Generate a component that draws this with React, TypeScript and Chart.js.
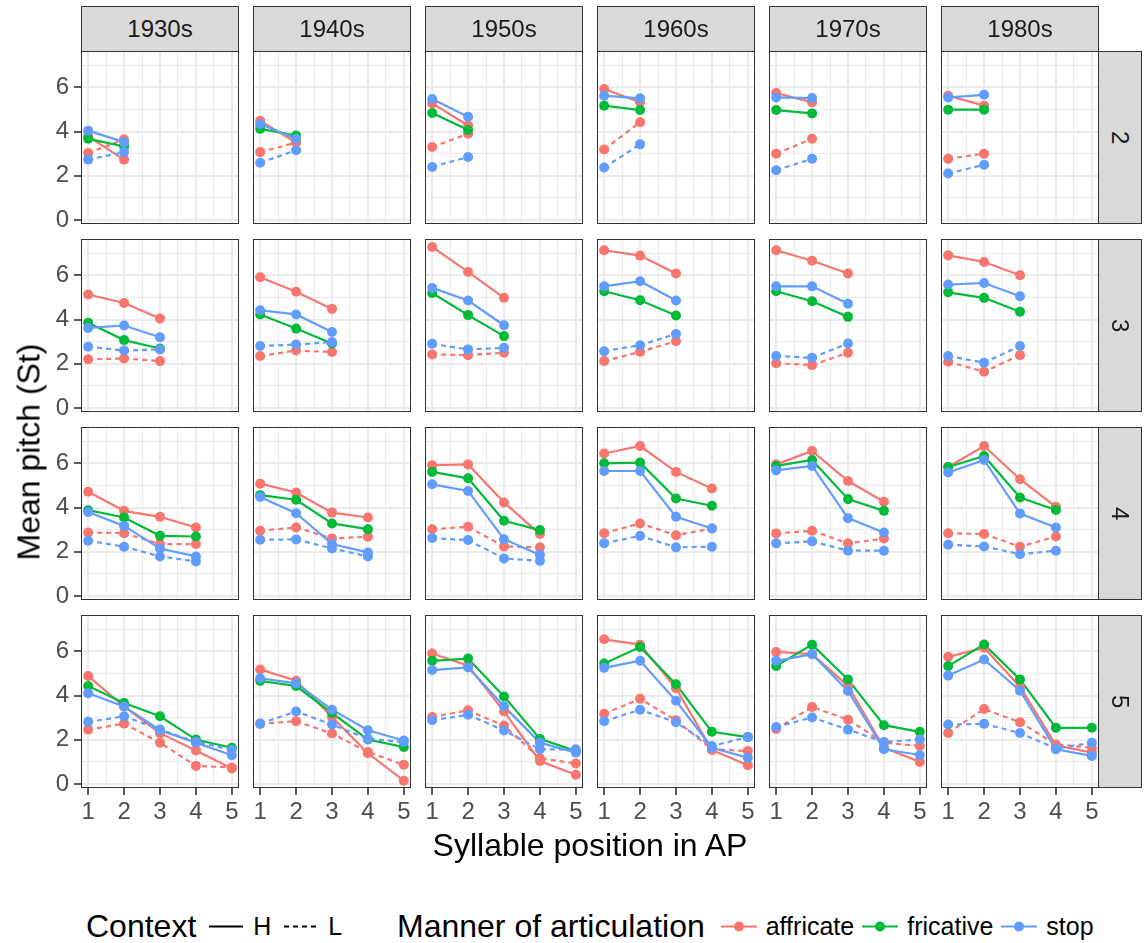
import React, { useEffect, useRef } from "react";
import { Chart, registerables } from "chart.js";

Chart.register(...registerables);

const FONT = '"Liberation Sans", Arial, Helvetica, sans-serif';

// ---------- data ----------
const decades = ["1930s", "1940s", "1950s", "1960s", "1970s", "1980s"];
const apLengths = ["2", "3", "4", "5"];
const xTickValues = [1, 2, 3, 4, 5];
const yTickValues = [0, 2, 4, 6];
const mannerLabels = ["affricate", "fricative", "stop"];
const contextLabels = ["H", "L"];

// [AP row][decade][syllable position]
const affricateH = [
  [[3.78, 2.73], [4.49, 3.5], [5.27, 4.27], [5.92, 5.32], [5.74, 5.32], [5.62, 5.17]],
  [[5.13, 4.75, 4.05], [5.91, 5.26, 4.48], [7.28, 6.15, 4.98], [7.13, 6.89, 6.08], [7.13, 6.66, 6.08], [6.9, 6.6, 6.0]],
  [[4.71, 3.85, 3.58, 3.1], [5.08, 4.68, 3.77, 3.55], [5.91, 5.95, 4.23, 2.8], [6.44, 6.78, 5.61, 4.86], [5.95, 6.56, 5.2, 4.26], [5.83, 6.78, 5.28, 4.03]],
  [[4.88, 3.5, 2.3, 1.52, 0.7], [5.18, 4.67, 3.03, 1.39, 0.15], [5.9, 5.35, 3.28, 1.04, 0.42], [6.54, 6.3, 4.33, 1.54, 0.85], [5.97, 5.87, 4.43, 1.64, 1.0], [5.75, 6.16, 4.4, 1.75, 1.42]],
];
const affricateL = [
  [[3.03, 3.64], [3.07, 3.5], [3.3, 3.9], [3.19, 4.42], [3.0, 3.67], [2.77, 3.0]],
  [[2.2, 2.24, 2.12], [2.35, 2.6, 2.53], [2.42, 2.39, 2.5], [2.12, 2.54, 3.02], [2.02, 1.94, 2.5], [2.09, 1.64, 2.39]],
  [[2.87, 2.84, 2.35, 2.35], [2.95, 3.1, 2.6, 2.68], [3.02, 3.13, 2.24, 2.2], [2.84, 3.28, 2.75, 3.05], [2.83, 2.95, 2.38, 2.6], [2.84, 2.8, 2.23, 2.69]],
  [[2.46, 2.73, 1.87, 0.82, 0.75], [2.72, 2.84, 2.28, 1.45, 0.87], [3.03, 3.33, 2.64, 1.16, 0.93], [3.18, 3.85, 2.88, 1.57, 1.49], [2.49, 3.48, 2.91, 1.87, 1.72], [2.31, 3.39, 2.79, 1.79, 1.64]],
];
const fricativeH = [
  [[3.67, 3.33], [4.12, 3.82], [4.84, 4.07], [5.17, 4.97], [4.97, 4.82], [4.99, 4.99]],
  [[3.85, 3.07, 2.69], [4.23, 3.59, 2.92], [5.2, 4.2, 3.25], [5.28, 4.87, 4.18], [5.28, 4.83, 4.12], [5.23, 4.98, 4.35]],
  [[3.88, 3.55, 2.72, 2.69], [4.56, 4.35, 3.28, 3.02], [5.61, 5.32, 3.4, 2.98], [6.0, 6.03, 4.41, 4.08], [5.88, 6.15, 4.38, 3.85], [5.83, 6.33, 4.45, 3.89]],
  [[4.43, 3.66, 3.06, 2.01, 1.64], [4.66, 4.43, 3.21, 2.01, 1.67], [5.57, 5.67, 3.96, 2.04, 1.49], [5.45, 6.19, 4.51, 2.36, 2.12], [5.34, 6.3, 4.73, 2.66, 2.36], [5.33, 6.31, 4.73, 2.54, 2.54]],
];
const stopH = [
  [[4.04, 3.52], [4.34, 3.67], [5.47, 4.67], [5.62, 5.5], [5.54, 5.51], [5.54, 5.66]],
  [[3.62, 3.73, 3.2], [4.42, 4.23, 3.44], [5.43, 4.86, 3.74], [5.5, 5.73, 4.86], [5.5, 5.5, 4.71], [5.58, 5.65, 5.05]],
  [[3.8, 3.17, 2.15, 1.79], [4.48, 3.74, 2.35, 1.97], [5.05, 4.75, 2.57, 1.86], [5.65, 5.65, 3.58, 3.05], [5.68, 5.88, 3.52, 2.87], [5.58, 6.15, 3.73, 3.1]],
  [[4.1, 3.51, 2.43, 1.87, 1.3], [4.78, 4.55, 3.36, 2.43, 1.97], [5.15, 5.27, 3.51, 1.87, 1.42], [5.25, 5.57, 3.76, 1.64, 1.19], [5.57, 5.87, 4.21, 1.57, 1.31], [4.9, 5.63, 4.22, 1.57, 1.27]],
];
const stopL = [
  [[2.73, 3.07], [2.59, 3.15], [2.4, 2.85], [2.37, 3.42], [2.25, 2.77], [2.1, 2.5]],
  [[2.77, 2.6, 2.65], [2.8, 2.87, 2.98], [2.9, 2.65, 2.72], [2.57, 2.84, 3.35], [2.35, 2.27, 2.92], [2.35, 2.05, 2.8]],
  [[2.5, 2.23, 1.79, 1.56], [2.54, 2.56, 2.15, 1.79], [2.62, 2.53, 1.7, 1.59], [2.39, 2.72, 2.2, 2.23], [2.38, 2.47, 2.05, 2.05], [2.32, 2.24, 1.89, 2.05]],
  [[2.81, 3.06, 2.46, 1.91, 1.55], [2.73, 3.28, 2.69, 2.04, 1.9], [2.88, 3.13, 2.42, 1.57, 1.57], [2.84, 3.36, 2.79, 1.72, 2.12], [2.58, 3.01, 2.46, 1.9, 2.01], [2.69, 2.72, 2.31, 1.6, 1.87]],
];

// ---------- styling ----------
const COLORS: Record<string, string> = {
  affricate: "#F8766D",
  fricative: "#00BA38",
  stop: "#619CFF",
};
const DASH: Record<string, number[]> = { H: [], L: [5, 4] };

const seriesList = [
  { manner: "affricate", context: "H", values: affricateH, rank: 2 },
  { manner: "affricate", context: "L", values: affricateL, rank: 2 },
  { manner: "fricative", context: "H", values: fricativeH, rank: 1 },
  { manner: "stop", context: "H", values: stopH, rank: 0 },
  { manner: "stop", context: "L", values: stopL, rank: 0 },
];

const X_MIN = 0.8, X_MAX = 5.2;
const Y_MIN = -0.18, Y_MAX = 7.64;
const xGridValues = xTickValues.flatMap((v, i) => (i < xTickValues.length - 1 ? [v, v + 0.5] : [v]));
const yGridValues = yTickValues.flatMap((v) => [v, v + 1]);

const PANEL_LEFT0 = 81, PANEL_PITCH_X = 172, PANEL_W = 158;
const PANEL_TOP0 = 51, PANEL_PITCH_Y = 188, PANEL_H = 173;
const LEFT_AXIS_W = 81, BOTTOM_AXIS_H = 40, LABEL_OVERHANG = 12;
const STRIP_TOP = 6, STRIP_H = 45, RSTRIP_W = 44;
const BORDER = "1.6px solid #333333";
const GRID = "#EBEBEB";
const TICK_FONT = 24;
const TITLE_FONT = 32;
const LEGEND_FONT = 25;
const POINT_R = 5;

function zeroPad(s: any) {
  s.paddingTop = 0;
  s.paddingBottom = 0;
  s.paddingLeft = 0;
  s.paddingRight = 0;
}

function Panel({ r, c }: { r: number; c: number }) {
  const ref = useRef<HTMLCanvasElement>(null);
  const isLeft = c === 0;
  const isBottom = r === apLengths.length - 1;
  const bottomH = isBottom ? BOTTOM_AXIS_H : isLeft ? LABEL_OVERHANG : 0;
  const w = PANEL_W + (isLeft ? LEFT_AXIS_W : 0);
  const h = PANEL_H + bottomH;
  const left = PANEL_LEFT0 + c * PANEL_PITCH_X - (isLeft ? LEFT_AXIS_W : 0);
  const top = PANEL_TOP0 + r * PANEL_PITCH_Y;

  useEffect(() => {
    if (!ref.current) return;
    const datasets: any[] = [];
    seriesList.forEach((s) => {
      const vals = s.values[r][c];
      const data = vals.map((v, i) => ({ x: i + 1, y: v }));
      const col = COLORS[s.manner];
      datasets.push({
        label: s.manner + " " + s.context + " line",
        data,
        showLine: true,
        borderColor: col,
        borderWidth: 2.2,
        borderDash: DASH[s.context],
        pointRadius: 0,
        fill: false,
        order: 10 + s.rank,
      });
      datasets.push({
        label: s.manner + " " + s.context,
        data,
        showLine: false,
        pointRadius: POINT_R,
        pointBackgroundColor: col,
        pointBorderWidth: 0,
        backgroundColor: col,
        order: s.rank,
      });
    });
    const isMajorX = (v: number) => Number.isInteger(v);
    const isMajorY = (v: number) => Number.isInteger(v) && v % 2 === 0;
    const chart = new Chart(ref.current, {
      type: "scatter",
      data: { datasets },
      options: {
        animation: false,
        responsive: false,
        events: [],
        layout: { padding: 0, autoPadding: false },
        plugins: { legend: { display: false }, tooltip: { enabled: false } },
        scales: {
          x: {
            type: "linear",
            min: X_MIN,
            max: X_MAX,
            afterBuildTicks: (ax: any) => {
              ax.ticks = xGridValues.map((v) => ({ value: v }));
            },
            afterFit: (s: any) => {
              s.height = bottomH;
              zeroPad(s);
            },
            border: { display: false },
            grid: {
              color: GRID,
              lineWidth: (ctx: any) => (ctx.tick && isMajorX(ctx.tick.value) ? 2 : 1),
              drawTicks: isBottom,
              tickLength: 7,
              tickWidth: 1.6,
              tickColor: (ctx: any) => (ctx.tick && isMajorX(ctx.tick.value) ? "#333333" : "rgba(0,0,0,0)"),
            },
            ticks: {
              display: isBottom,
              autoSkip: false,
              maxRotation: 0,
              padding: 3,
              color: "#4D4D4D",
              font: { family: FONT, size: TICK_FONT },
              callback: (v: any) => (isMajorX(Number(v)) ? String(v) : ""),
            },
          },
          y: {
            type: "linear",
            min: Y_MIN,
            max: Y_MAX,
            afterBuildTicks: (ax: any) => {
              ax.ticks = yGridValues.map((v) => ({ value: v }));
            },
            afterFit: (s: any) => {
              s.width = isLeft ? LEFT_AXIS_W : 0;
              zeroPad(s);
            },
            border: { display: false },
            grid: {
              color: GRID,
              lineWidth: (ctx: any) => (ctx.tick && isMajorY(ctx.tick.value) ? 2 : 1),
              drawTicks: isLeft,
              tickLength: 7,
              tickWidth: 1.6,
              tickColor: (ctx: any) => (ctx.tick && isMajorY(ctx.tick.value) ? "#333333" : "rgba(0,0,0,0)"),
            },
            ticks: {
              display: isLeft,
              autoSkip: false,
              padding: 5,
              color: "#4D4D4D",
              font: { family: FONT, size: TICK_FONT },
              callback: (v: any) => (isMajorY(Number(v)) ? String(v) : ""),
            },
          },
        },
      } as any,
    });
    return () => chart.destroy();
  }, [r, c]);

  return (
    <>
      <canvas
        ref={ref}
        width={w}
        height={h}
        style={{ position: "absolute", left, top, width: w, height: h }}
      />
      <div
        style={{
          position: "absolute",
          left: PANEL_LEFT0 + c * PANEL_PITCH_X,
          top,
          width: PANEL_W,
          height: PANEL_H,
          border: BORDER,
          boxSizing: "border-box",
          pointerEvents: "none",
        }}
      />
    </>
  );
}

function KeySwatch({ color, dash, point, width }: { color: string; dash: number[]; point: boolean; width: number }) {
  return (
    <svg width={width} height={30} style={{ display: "block" }}>
      <line
        x1={1}
        y1={15}
        x2={width - 1}
        y2={15}
        stroke={color}
        strokeWidth={2.2}
        strokeDasharray={dash.length ? dash.join(" ") : undefined}
      />
      {point ? <circle cx={width / 2} cy={15} r={POINT_R} fill={color} /> : null}
    </svg>
  );
}

export default function App() {
  const legendY = 926;
  const row = (left: number, children: React.ReactNode, key: string) => (
    <div
      key={key}
      style={{
        position: "absolute",
        left,
        top: legendY,
        transform: "translateY(-50%)",
        display: "flex",
        alignItems: "center",
        whiteSpace: "nowrap",
      }}
    >
      {children}
    </div>
  );
  return (
    <div
      style={{
        position: "absolute",
        left: 0,
        top: 0,
        width: 1145,
        height: 943,
        background: "#FFFFFF",
        fontFamily: FONT,
        color: "#000000",
        overflow: "hidden",
      }}
    >
      {apLengths.map((_, r) => decades.map((__, c) => <Panel key={r + "-" + c} r={r} c={c} />))}

      {decades.map((d, c) => (
        <div
          key={d}
          style={{
            position: "absolute",
            left: PANEL_LEFT0 + c * PANEL_PITCH_X,
            top: STRIP_TOP,
            width: PANEL_W,
            height: STRIP_H + 1,
            background: "#D9D9D9",
            border: BORDER,
            boxSizing: "border-box",
            display: "flex",
            alignItems: "center",
            justifyContent: "center",
            fontSize: 24,
            color: "#1A1A1A",
          }}
        >
          {d}
        </div>
      ))}

      {apLengths.map((a, r) => (
        <div
          key={a}
          style={{
            position: "absolute",
            left: PANEL_LEFT0 + (decades.length - 1) * PANEL_PITCH_X + PANEL_W - 1,
            top: PANEL_TOP0 + r * PANEL_PITCH_Y,
            width: RSTRIP_W,
            height: PANEL_H,
            background: "#D9D9D9",
            border: BORDER,
            boxSizing: "border-box",
            display: "flex",
            alignItems: "center",
            justifyContent: "center",
            fontSize: 24,
            color: "#1A1A1A",
          }}
        >
          <span style={{ writingMode: "vertical-rl" }}>{a}</span>
        </div>
      ))}

      <div
        style={{
          position: "absolute",
          left: 29,
          top: 452,
          transform: "translate(-50%, -50%) rotate(-90deg)",
          fontSize: TITLE_FONT,
          whiteSpace: "nowrap",
        }}
      >
        Mean pitch (St)
      </div>
      <div
        style={{
          position: "absolute",
          left: 590,
          top: 845,
          transform: "translate(-50%, -50%)",
          fontSize: TITLE_FONT,
          whiteSpace: "nowrap",
        }}
      >
        Syllable position in AP
      </div>

      {row(
        86,
        <>
          <span style={{ fontSize: TITLE_FONT, marginRight: 12 }}>Context</span>
          <KeySwatch color="#000000" dash={DASH.H} point={false} width={36} />
          <span style={{ fontSize: LEGEND_FONT, marginLeft: 9, marginRight: 12 }}>{contextLabels[0]}</span>
          <KeySwatch color="#000000" dash={DASH.L} point={false} width={36} />
          <span style={{ fontSize: LEGEND_FONT, marginLeft: 9 }}>{contextLabels[1]}</span>
        </>,
        "ctx"
      )}
      {row(
        397,
        <>
          <span style={{ fontSize: TITLE_FONT, marginRight: 15 }}>Manner of articulation</span>
          {mannerLabels.map((m) => (
            <React.Fragment key={m}>
              <KeySwatch color={COLORS[m]} dash={[]} point={true} width={38} />
              <span style={{ fontSize: LEGEND_FONT, marginLeft: 8, marginRight: 7 }}>{m}</span>
            </React.Fragment>
          ))}
        </>,
        "manner"
      )}
    </div>
  );
}
